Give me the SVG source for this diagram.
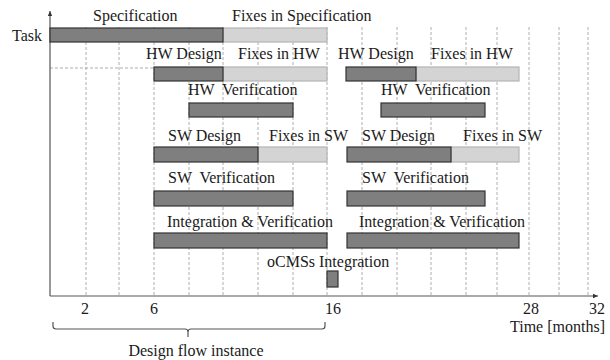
<svg xmlns="http://www.w3.org/2000/svg" width="610" height="360" viewBox="0 0 610 360">
<style>
text{font-family:"Liberation Serif","DejaVu Serif",serif;font-size:16px;fill:#1a1a1a;white-space:pre}
.g{stroke:#9a9a9a;stroke-width:0.8;stroke-dasharray:3 2;fill:none}
.d{fill:#7f7f7f;stroke:#333;stroke-width:1.2}
.l{fill:#d4d4d4;stroke:#b4b4b4;stroke-width:1.2}
.ax{stroke:#555;stroke-width:1.2;fill:none}
.m{text-anchor:middle}
</style>
<defs>
<marker id="ah" markerWidth="6" markerHeight="6" refX="5" refY="3" orient="auto" markerUnits="userSpaceOnUse">
<path d="M0,0.8 L5,3 L0,5.2 z" fill="#333"/>
</marker>
</defs>
<g id="grid">
<path class="g" d="M86,27V296M119,27V296M154,27V296M189,27V296M223,27V296M258,27V296M293,27V296M327,27V296M362,27V296M397,27V296M431,27V296M466,27V296M497,27V296M529,27V296M559,27V296M588,27V296M50,68H154"/>
</g>
<g id="connectors">
<line class="ax" x1="50" y1="296" x2="50" y2="11" marker-end="url(#ah)"/>
<line class="ax" x1="50" y1="296" x2="598" y2="296" marker-end="url(#ah)"/>
<path class="ax" d="M53,322 v4 q0,3 3,3 h129 q3,0 3,3 v5 M188,332 q0,-3 3,-3 h131 q3,0 3,-3 v-4" stroke="#333"/>
</g>
<g id="task">
<text x="12" y="41">Task</text>
<text x="93" y="21">Specification</text>
<text x="232" y="21">Fixes in Specification</text>
<rect class="l" x="223" y="28" width="104" height="14"/>
<rect class="d" x="50" y="28" width="173" height="14"/>
</g>
<g id="hw1">
<text x="146" y="59">HW Design</text>
<text x="238" y="59">Fixes in HW</text>
<rect class="l" x="223" y="67" width="104" height="14"/>
<rect class="d" x="154" y="67" width="69" height="14"/>
<text x="188" y="95" xml:space="preserve">HW  Verification</text>
<rect class="d" x="189" y="103" width="104" height="14"/>
</g>
<g id="hw2">
<text x="338" y="59">HW Design</text>
<text x="431" y="59">Fixes in HW</text>
<rect class="l" x="416" y="67" width="103" height="14"/>
<rect class="d" x="346" y="67" width="70" height="14"/>
<text x="381" y="95" xml:space="preserve">HW  Verification</text>
<rect class="d" x="381" y="103" width="104" height="14"/>
</g>
<g id="sw1">
<text x="168" y="141">SW Design</text>
<text x="269" y="141">Fixes in SW</text>
<rect class="l" x="258" y="147" width="69" height="15"/>
<rect class="d" x="154" y="147" width="104" height="15"/>
<text x="168" y="183" xml:space="preserve">SW  Verification</text>
<rect class="d" x="154" y="191" width="139" height="15"/>
</g>
<g id="sw2">
<text x="362" y="141">SW Design</text>
<text x="463" y="141">Fixes in SW</text>
<rect class="l" x="451" y="147" width="68" height="15"/>
<rect class="d" x="347" y="147" width="104" height="15"/>
<text x="362" y="183" xml:space="preserve">SW  Verification</text>
<rect class="d" x="347" y="191" width="138" height="15"/>
</g>
<g id="int1">
<text x="167" y="227">Integration &amp; Verification</text>
<rect class="d" x="154" y="233" width="173" height="15"/>
</g>
<g id="int2">
<text x="359" y="227">Integration &amp; Verification</text>
<rect class="d" x="347" y="233" width="172" height="15"/>
</g>
<g id="ocms">
<text x="267" y="267">oCMSs Integration</text>
<rect class="d" x="327" y="271" width="11" height="16"/>
</g>
<g id="axis-labels">
<text class="m" x="85" y="314">2</text>
<text class="m" x="154" y="314">6</text>
<text class="m" x="333" y="314">16</text>
<text class="m" x="531" y="314">28</text>
<text class="m" x="597" y="314">32</text>
<text x="510" y="332">Time [months]</text>
<text class="m" x="196" y="356">Design flow instance</text>
</g>
</svg>
